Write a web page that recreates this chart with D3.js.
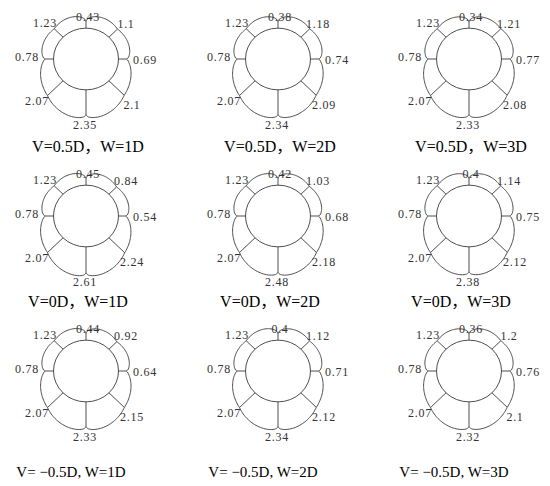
<!DOCTYPE html>
<html>
<head>
<meta charset="utf-8">
<script src="https://cdn.jsdelivr.net/npm/d3@7/dist/d3.min.js"></script>
<style>
  html, body { margin: 0; padding: 0; background: #fff; }
  svg { display: block; }
</style>
</head>
<body>
<div id="chart"></div>
<script>
// ---- data ----
// spoke order: top, top-right, right, bottom-right, bottom, bottom-left, left, top-left
const directions = ["top", "top-right", "right", "bottom-right", "bottom", "bottom-left", "left", "top-left"];
const panelTitles = [
  "V=0.5D，W=1D", "V=0.5D，W=2D", "V=0.5D，W=3D",
  "V=0D，W=1D", "V=0D，W=2D", "V=0D，W=3D",
  "V= −0.5D, W=1D", "V= −0.5D, W=2D", "V= −0.5D, W=3D"
];
const v05_w1 = [0.43, 1.1, 0.69, 2.1, 2.35, 2.07, 0.78, 1.23];
const v05_w2 = [0.38, 1.18, 0.74, 2.09, 2.34, 2.07, 0.78, 1.23];
const v05_w3 = [0.34, 1.21, 0.77, 2.08, 2.33, 2.07, 0.78, 1.23];
const v0_w1 = [0.45, 0.84, 0.54, 2.24, 2.61, 2.07, 0.78, 1.23];
const v0_w2 = [0.42, 1.03, 0.68, 2.18, 2.48, 2.07, 0.78, 1.23];
const v0_w3 = [0.4, 1.14, 0.75, 2.12, 2.38, 2.07, 0.78, 1.23];
const vm05_w1 = [0.44, 0.92, 0.64, 2.15, 2.33, 2.07, 0.78, 1.23];
const vm05_w2 = [0.4, 1.12, 0.71, 2.12, 2.34, 2.07, 0.78, 1.23];
const vm05_w3 = [0.36, 1.2, 0.76, 2.1, 2.32, 2.07, 0.78, 1.23];
const panelValues = [v05_w1, v05_w2, v05_w3, v0_w1, v0_w2, v0_w3, vm05_w1, vm05_w2, vm05_w3];

// ---- layout ----
const W = 550, H = 486;
const colX = [86, 278, 469];
const rowY = [59, 216, 371];
const titleDx = [2, -8, -15];
const titleY = [152, 307, 477];
const titleSize = [16, 16, 15];
const R = 32.5;          // inner circle radius
const SY = 0.95;         // vertical squash of the figure
const angles = [90, 45, 0, -45, -90, -135, 180, 135].map(d => d * Math.PI / 180);
const spokeBase = [4.8, 6.5, 4.5, 11, 14.2, 11.6, 4.4, 6.3];   // drawing offset per direction (px)
const lobeBulge = [4.8, 3.2, 1.5, 5, 5, 1.5, 3.2, 4.8];         // bulge of lobe from spoke i to i+1 (px)
const labelOffsets = [[2, -38], [40, -31], [59, 5], [46, 50], [-1, 70], [-49, 46], [-59, 2], [-41, -32]];

const lenScale = d3.scaleLinear().domain([0, 1]).range([0, 5]);

const svg = d3.select("#chart").append("svg").attr("width", W).attr("height", H)
  .style("font-family", "'Liberation Serif', 'Noto Sans CJK SC', 'Times New Roman', serif");

const toXY = (a, r) => [r * Math.cos(a), -r * Math.sin(a) * SY];
const line = d3.line().curve(d3.curveCatmullRom);
const stroke = "#3a3a3a";
// lobe profile: steep (cusp) at the cardinal spoke (s=0), gentle at the diagonal spoke (s=1)
const profile = s => 2.6 * Math.sqrt(Math.max(s, 0)) * (1 - s);

panelValues.forEach((vals, p) => {
  const row = Math.floor(p / 3), col = p % 3;
  const g = svg.append("g").attr("transform", `translate(${colX[col]},${rowY[row]})`);

  // inner circle
  g.append("ellipse").attr("rx", R).attr("ry", R * SY)
    .attr("fill", "none").attr("stroke", stroke).attr("stroke-width", 0.9);

  const outer = vals.map((v, i) => R + spokeBase[i] + lenScale(v));

  // spokes
  g.selectAll("line.spoke").data(vals).join("line").attr("class", "spoke")
    .attr("x1", (d, i) => toXY(angles[i], R)[0])
    .attr("y1", (d, i) => toXY(angles[i], R)[1])
    .attr("x2", (d, i) => toXY(angles[i], outer[i])[0])
    .attr("y2", (d, i) => toXY(angles[i], outer[i])[1])
    .attr("stroke", stroke).attr("stroke-width", 0.9);

  // lobes between adjacent spokes
  vals.forEach((v, i) => {
    const j = (i + 1) % 8;
    let a1 = angles[i], a2 = angles[j];
    while (a2 > a1) a2 -= 2 * Math.PI;   // clockwise
    const r1 = outer[i], r2 = outer[j];
    const fromCardinal = (i % 2 === 0);
    const pts = d3.range(0, 1.0001, 1 / 30).map(t => {
      const a = a1 + (a2 - a1) * t;
      const s = fromCardinal ? t : 1 - t;
      const r = r1 + (r2 - r1) * t + lobeBulge[i] * profile(s);
      return toXY(a, r);
    });
    g.append("path").attr("d", line(pts)).attr("fill", "none")
      .attr("stroke", stroke).attr("stroke-width", 0.9);
  });

  // value labels
  g.selectAll("text.val").data(vals).join("text").attr("class", "val")
    .attr("x", (d, i) => labelOffsets[i][0])
    .attr("y", (d, i) => labelOffsets[i][1])
    .attr("text-anchor", "middle")
    .attr("font-size", 12)
    .attr("letter-spacing", 0.7)
    .attr("fill", "#333")
    .text(d => String(d));

  // title
  svg.append("text")
    .attr("x", colX[col] + titleDx[row])
    .attr("y", titleY[row])
    .attr("text-anchor", "middle")
    .attr("font-size", titleSize[row])
    .attr("fill", "#000")
    .text(panelTitles[p]);
});
</script>
</body>
</html>
